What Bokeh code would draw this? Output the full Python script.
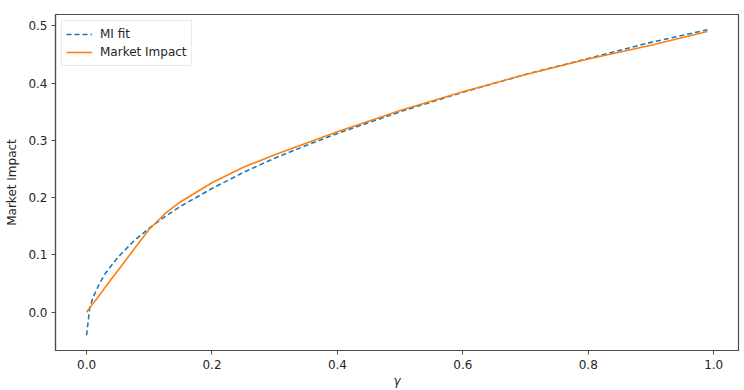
from bokeh.plotting import figure
from bokeh.models import Range1d, FixedTicker, PrintfTickFormatter, Legend, LegendItem
from bokeh.embed import file_html
from bokeh.resources import INLINE

gamma = [0.0, 0.005, 0.01, 0.02, 0.03, 0.05, 0.075, 0.1, 0.125, 0.15, 0.2, 0.25,
         0.3, 0.35, 0.4, 0.5, 0.6, 0.7, 0.8, 0.9, 0.99]
mi_fit = [-0.040, 0.007, 0.025, 0.049, 0.068, 0.096, 0.124, 0.147, 0.167, 0.185, 0.216,
          0.244, 0.269, 0.291, 0.312, 0.350, 0.384, 0.415, 0.443, 0.471, 0.493]
market_impact = [0.0, 0.0074, 0.0147, 0.029, 0.044, 0.073, 0.109, 0.145, 0.172, 0.193, 0.226,
                 0.253, 0.275, 0.295, 0.315, 0.352, 0.385, 0.415, 0.442, 0.466, 0.490]
x_ticks = [0.0, 0.2, 0.4, 0.6, 0.8, 1.0]
y_ticks = [0.0, 0.1, 0.2, 0.3, 0.4, 0.5]

xmin, xmax = min(gamma), max(gamma)
ymin = min(min(mi_fit), min(market_impact))
ymax = max(max(mi_fit), max(market_impact))
xm = 0.05 * (xmax - xmin)
ym = 0.05 * (ymax - ymin)

FONT = "DejaVu Sans"
TXT = "#262626"

p = figure(width=744, height=390, output_backend="svg", toolbar_location=None,
           x_range=Range1d(xmin - xm, xmax + xm), y_range=Range1d(ymin - ym, ymax + ym),
           min_border_left=55, min_border_right=6, min_border_top=14, min_border_bottom=38)
p.background_fill_color = "white"
p.border_fill_color = "white"
p.outline_line_color = "#4d4d4d"
p.outline_line_width = 1.2
p.xgrid.visible = False
p.ygrid.visible = False

r_fit = p.line(gamma, mi_fit, line_color="#1f77b4", line_width=1.6, line_dash="5 3")
r_mi = p.line(gamma, market_impact, line_color="#ff7f0e", line_width=1.6)

for ax in (p.xaxis[0], p.yaxis[0]):
    ax.axis_line_color = "#4d4d4d"
    ax.axis_line_width = 1.2
    ax.major_tick_line_color = "#4d4d4d"
    ax.major_tick_in = 0
    ax.major_tick_out = 4
    ax.minor_tick_line_color = None
    ax.major_label_text_font = FONT
    ax.major_label_text_font_size = "12px"
    ax.major_label_text_color = TXT
    ax.axis_label_text_font = FONT
    ax.axis_label_text_font_size = "12px"
    ax.axis_label_text_color = TXT

p.xaxis.ticker = FixedTicker(ticks=x_ticks)
p.yaxis.ticker = FixedTicker(ticks=y_ticks)
p.xaxis.formatter = PrintfTickFormatter(format="%.1f")
p.yaxis.formatter = PrintfTickFormatter(format="%.1f")
p.xaxis.major_label_standoff = 5
p.yaxis.major_label_standoff = 4
p.xaxis.axis_label = "γ"
p.xaxis.axis_label_text_font_style = "italic"
p.xaxis.axis_label_standoff = 2
p.yaxis.axis_label = "Market Impact"
p.yaxis.axis_label_text_font_style = "normal"
p.yaxis.axis_label_standoff = 6

legend = Legend(items=[LegendItem(label="MI fit", renderers=[r_fit]),
                       LegendItem(label="Market Impact", renderers=[r_mi])],
                location="top_left")
legend.margin = 6
legend.padding = 4
legend.spacing = 0
legend.label_text_font = FONT
legend.label_text_font_size = "12px"
legend.label_text_color = TXT
legend.label_height = 18
legend.glyph_height = 18
legend.glyph_width = 26
legend.label_standoff = 8
legend.border_line_color = "#d6d6d6"
legend.border_line_width = 1
legend.background_fill_alpha = 0.85
p.add_layout(legend)

open("out.html", "w").write(file_html(p, INLINE))
